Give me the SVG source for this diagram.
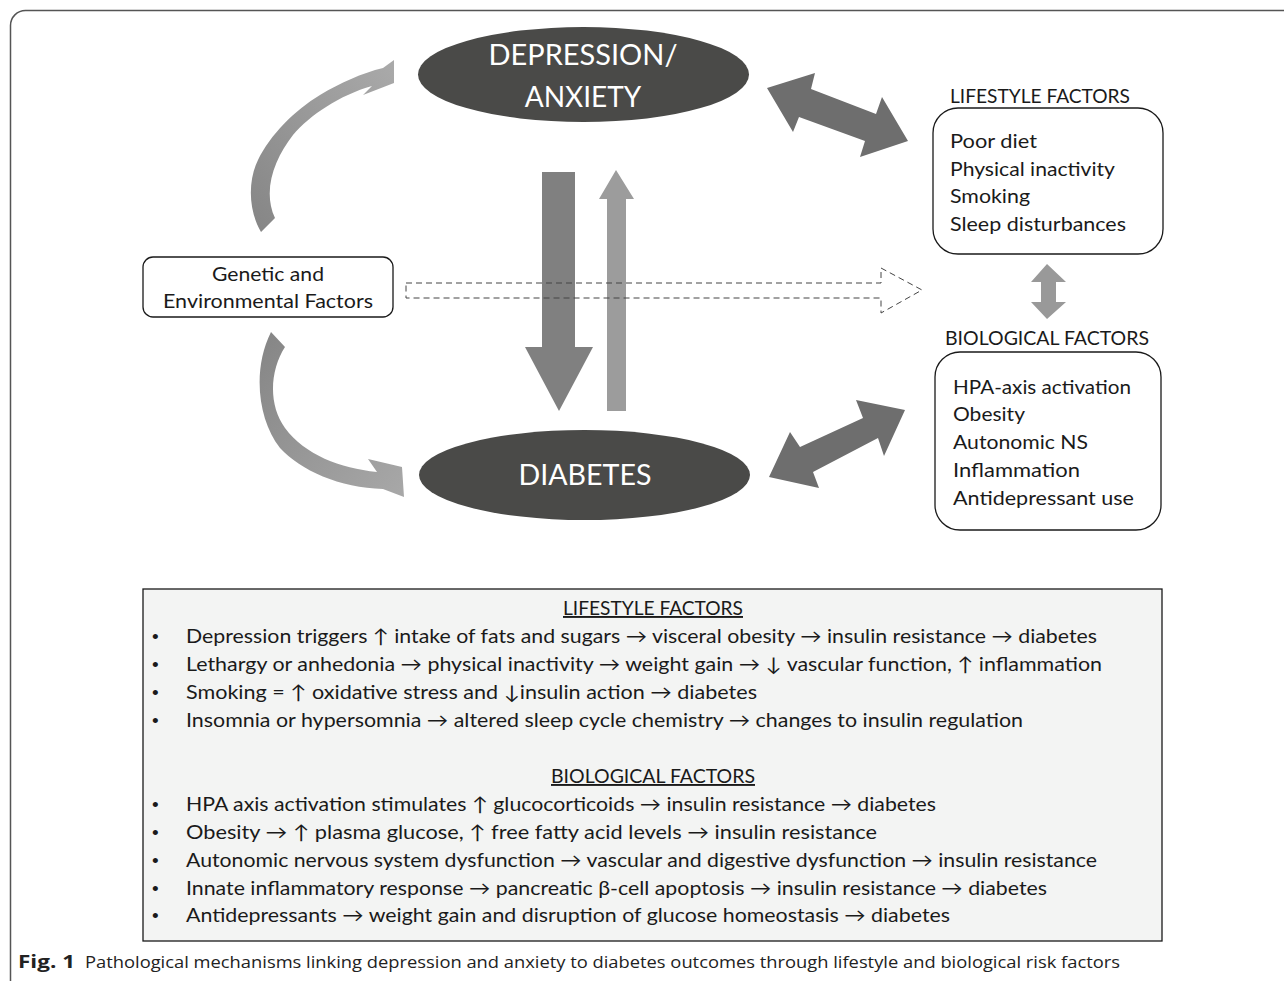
<svg xmlns="http://www.w3.org/2000/svg" width="1284" height="981" viewBox="0 0 1284 981">
<defs>
<style>
.t{font-family:Lato,"Liberation Sans",sans-serif;font-size:19px;fill:#1a1a1a}
.b{font-family:"Liberation Sans",sans-serif;font-size:19px;fill:#1a1a1a}
.e{font-family:Lato,"Liberation Sans",sans-serif;font-size:28px;fill:#ffffff;text-anchor:middle}
.box{fill:#ffffff;stroke:#1a1a1a;stroke-width:1.3}
.ell{fill:#4a4a48}
.big{fill:#6e6e6e}
.u{text-decoration:underline}
.cap{font-family:"Open Sans","Liberation Sans",sans-serif;font-size:17px;fill:#222}
</style>
<linearGradient id="g1" x1="0" y1="1" x2="1" y2="0">
<stop offset="0" stop-color="#858585"/><stop offset="1" stop-color="#aaaaaa"/>
</linearGradient>
<linearGradient id="g2" x1="0" y1="0" x2="1" y2="1">
<stop offset="0" stop-color="#858585"/><stop offset="1" stop-color="#a8a8a8"/>
</linearGradient>
</defs>
<rect width="1284" height="981" fill="#ffffff"/>
<rect x="10.5" y="10.5" width="1400" height="1000" rx="15" fill="none" stroke="#555" stroke-width="1.5"/>

<g id="connectors">
<path d="M261,232 C248,210 248,180 258,160 C270,135 295,110 320,95 C340,83 362,73 383,68 L394,60 L394,83 L363,95 L372,86 C340,95 310,115 293,135 C275,158 262,190 275,218 Z" fill="url(#g1)"/>
<path d="M271,332 L285,347 C270,370 268,405 285,428 C305,455 340,468 377,472 L368,459 L402,467 L404,497 L383,489 C340,488 300,470 280,448 C258,420 252,370 271,332 Z" fill="url(#g2)"/>
<polygon points="542,172 575,172 575,347 593,347 559,411 525,347 542,347" fill="#808080"/>
<polygon points="607,411 626,411 626,199 634,199 616,170 599,199 607,199" fill="#9c9c9c"/>
<polygon class="big" points="767,88 815,73 811,89 876,114 882,97 908,141 860,157 865,141 799,117 793,132"/>
<polygon class="big" points="769,477 790,432 800,447 863,418 856,400 905,410 884,456 878,438 813,472 819,488"/>
<polygon points="1047,264 1066,282 1056,282 1056,302 1066,302 1047,319 1031,302 1041,302 1041,282 1031,282" fill="#999999"/>
<path d="M406,283 L881,283 L881,268 L922,290 L881,313 L881,298 L406,298 Z" fill="none" stroke="#444" stroke-width="1" stroke-dasharray="6 4"/>
</g>

<g id="depression">
<ellipse class="ell" cx="583.5" cy="74.5" rx="165.5" ry="47.5"/>
<text class="e" x="583" y="65" textLength="189" lengthAdjust="spacingAndGlyphs">DEPRESSION/</text>
<text class="e" x="583" y="107">ANXIETY</text>
</g>

<g id="diabetes">
<ellipse class="ell" cx="584.5" cy="475" rx="165.5" ry="45"/>
<text class="e" x="585" y="485" textLength="133" lengthAdjust="spacingAndGlyphs">DIABETES</text>
</g>

<g id="genetic">
<rect class="box" x="143" y="257" width="250" height="60" rx="10"/>
<text class="t" x="268" y="281" text-anchor="middle" textLength="112" lengthAdjust="spacingAndGlyphs">Genetic and</text>
<text class="t" x="268" y="308" text-anchor="middle" textLength="210" lengthAdjust="spacingAndGlyphs">Environmental Factors</text>
</g>

<g id="lifestyle">
<text class="t" x="950" y="103" textLength="180" lengthAdjust="spacingAndGlyphs">LIFESTYLE FACTORS</text>
<rect class="box" x="933" y="108" width="230" height="146" rx="25"/>
<text class="t" x="950" y="148" textLength="87" lengthAdjust="spacingAndGlyphs">Poor diet</text>
<text class="t" x="950" y="176" textLength="165" lengthAdjust="spacingAndGlyphs">Physical inactivity</text>
<text class="t" x="950" y="203" textLength="80" lengthAdjust="spacingAndGlyphs">Smoking</text>
<text class="t" x="950" y="231" textLength="176" lengthAdjust="spacingAndGlyphs">Sleep disturbances</text>
</g>

<g id="biological">
<text class="t" x="945" y="345" textLength="204" lengthAdjust="spacingAndGlyphs">BIOLOGICAL FACTORS</text>
<rect class="box" x="935" y="352" width="226" height="178" rx="25"/>
<text class="t" x="953" y="394" textLength="178" lengthAdjust="spacingAndGlyphs">HPA-axis activation</text>
<text class="t" x="953" y="421" textLength="72" lengthAdjust="spacingAndGlyphs">Obesity</text>
<text class="t" x="953" y="449" textLength="135" lengthAdjust="spacingAndGlyphs">Autonomic NS</text>
<text class="t" x="953" y="477" textLength="127" lengthAdjust="spacingAndGlyphs">Inflammation</text>
<text class="t" x="953" y="505" textLength="181" lengthAdjust="spacingAndGlyphs">Antidepressant use</text>
</g>

<g id="summary">
<rect x="143" y="589" width="1019" height="352" fill="#f3f4f3" stroke="#1a1a1a" stroke-width="1.3"/>
<text class="t u" x="563" y="615" textLength="180" lengthAdjust="spacingAndGlyphs">LIFESTYLE FACTORS</text>
<text class="b" x="152" y="643">•</text>
<text class="t" x="186" y="643" textLength="911" lengthAdjust="spacingAndGlyphs">Depression triggers ↑ intake of fats and sugars → visceral obesity → insulin resistance → diabetes</text>
<text class="b" x="152" y="671">•</text>
<text class="t" x="186" y="671" textLength="916" lengthAdjust="spacingAndGlyphs">Lethargy or anhedonia → physical inactivity → weight gain → ↓ vascular function, ↑ inflammation</text>
<text class="b" x="152" y="699">•</text>
<text class="t" x="186" y="699" textLength="571" lengthAdjust="spacingAndGlyphs">Smoking = ↑ oxidative stress and ↓insulin action → diabetes</text>
<text class="b" x="152" y="727">•</text>
<text class="t" x="186" y="727" textLength="837" lengthAdjust="spacingAndGlyphs">Insomnia or hypersomnia → altered sleep cycle chemistry → changes to insulin regulation</text>
<text class="t u" x="551" y="783" textLength="204" lengthAdjust="spacingAndGlyphs">BIOLOGICAL FACTORS</text>
<text class="b" x="152" y="811">•</text>
<text class="t" x="186" y="811" textLength="750" lengthAdjust="spacingAndGlyphs">HPA axis activation stimulates ↑ glucocorticoids → insulin resistance → diabetes</text>
<text class="b" x="152" y="839">•</text>
<text class="t" x="186" y="839" textLength="691" lengthAdjust="spacingAndGlyphs">Obesity → ↑ plasma glucose, ↑ free fatty acid levels  → insulin resistance</text>
<text class="b" x="152" y="867">•</text>
<text class="t" x="186" y="867" textLength="911" lengthAdjust="spacingAndGlyphs">Autonomic nervous system dysfunction → vascular and digestive dysfunction → insulin resistance</text>
<text class="b" x="152" y="895">•</text>
<text class="t" x="186" y="895" textLength="861" lengthAdjust="spacingAndGlyphs">Innate inflammatory response → pancreatic β-cell apoptosis → insulin resistance → diabetes</text>
<text class="b" x="152" y="922">•</text>
<text class="t" x="186" y="922" textLength="764" lengthAdjust="spacingAndGlyphs">Antidepressants → weight gain and disruption of glucose homeostasis → diabetes</text>
</g>

<g id="caption">
<text class="cap" x="18" y="968" font-weight="bold" textLength="57" lengthAdjust="spacingAndGlyphs">Fig. 1</text>
<text class="cap" x="85" y="968" textLength="1035" lengthAdjust="spacingAndGlyphs">Pathological mechanisms linking depression and anxiety to diabetes outcomes through lifestyle and biological risk factors</text>
</g>
</svg>
